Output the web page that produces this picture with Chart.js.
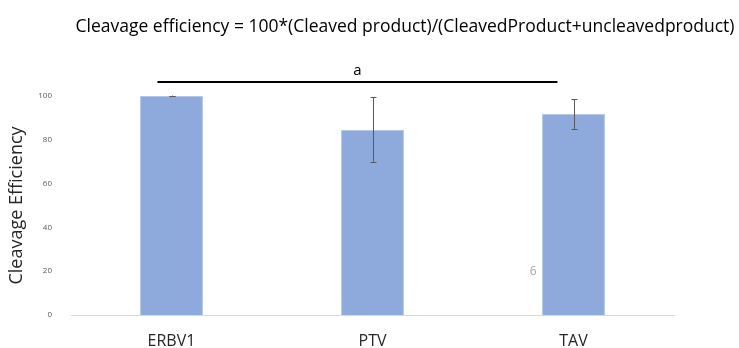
<!DOCTYPE html>
<html>
<head>
<meta charset="utf-8">
<script src="https://cdn.jsdelivr.net/npm/chart.js@4.4.1/dist/chart.umd.min.js"></script>
<style>
  html, body { margin: 0; padding: 0; background: #ffffff; }
  #wrap { width: 739px; height: 348px; position: relative; }
</style>
</head>
<body>
<div id="wrap"><canvas id="c" width="739" height="348"></canvas></div>
<script>
// Cleavage efficiency per virus (mean with error)
const categories = ['ERBV1', 'PTV', 'TAV'];
const efficiency = [100, 84.5, 91.8];
const errorLow = [99.8, 70, 85];
const errorHigh = [100.2, 99.5, 98.6];
const yTicks = [0, 20, 40, 60, 80, 100];
const titleText = 'Cleavage efficiency = 100*(Cleaved product)/(CleavedProduct+uncleavedproduct)';
const groupLabel = 'a';
const groupSpan = [-0.07, 1.92];   // category positions covered by the bracket
const groupLevel = 106.4;          // bracket height in axis units
const noteText = '6';
const notePos = [1.8, 20];

const FONT = '"Open Sans", "Liberation Sans", sans-serif';

const annotations = {
  id: 'annotations',
  afterDatasetsDraw(chart) {
    const ctx = chart.ctx;
    const xs = chart.scales.x, ys = chart.scales.y;
    ctx.save();
    // error bars
    ctx.strokeStyle = '#595959';
    ctx.lineWidth = 1;
    efficiency.forEach((v, i) => {
      const x = Math.round(xs.getPixelForValue(i)) + 0.5;
      const yl = ys.getPixelForValue(errorLow[i]);
      const yh = ys.getPixelForValue(errorHigh[i]);
      ctx.beginPath();
      ctx.moveTo(x, yl); ctx.lineTo(x, yh);
      ctx.moveTo(x - 3, Math.round(yl) + 0.5); ctx.lineTo(x + 3, Math.round(yl) + 0.5);
      ctx.moveTo(x - 3, Math.round(yh) + 0.5); ctx.lineTo(x + 3, Math.round(yh) + 0.5);
      ctx.stroke();
    });
    // significance bracket
    const by = ys.getPixelForValue(groupLevel);
    ctx.strokeStyle = '#000000';
    ctx.lineWidth = 2;
    ctx.beginPath();
    ctx.moveTo(xs.getPixelForValue(groupSpan[0]), by);
    ctx.lineTo(xs.getPixelForValue(groupSpan[1]), by);
    ctx.stroke();
    ctx.fillStyle = '#000000';
    ctx.font = '15px ' + FONT;
    ctx.textAlign = 'center';
    ctx.textBaseline = 'bottom';
    ctx.fillText(groupLabel, (xs.getPixelForValue(groupSpan[0]) + xs.getPixelForValue(groupSpan[1])) / 2, by - 4);
    // small note
    ctx.fillStyle = '#a6a6a6';
    ctx.font = '12px ' + FONT;
    ctx.textBaseline = 'middle';
    ctx.fillText(noteText, xs.getPixelForValue(notePos[0]), ys.getPixelForValue(notePos[1]));
    // heading
    ctx.fillStyle = '#000000';
    ctx.font = '17.5px ' + FONT;
    ctx.textBaseline = 'middle';
    ctx.fillText(titleText, 405, 27);
    ctx.restore();
  }
};

new Chart(document.getElementById('c'), {
  type: 'bar',
  data: {
    labels: categories,
    datasets: [{
      data: efficiency,
      backgroundColor: '#8eaadc',
      borderColor: '#b4c7e7',
      borderWidth: 1,
      categoryPercentage: 1,
      barPercentage: 0.313
    }]
  },
  options: {
    responsive: false,
    animation: false,
    layout: { padding: { left: 0, right: 65, top: 96, bottom: 0 } },
    plugins: { legend: { display: false }, tooltip: { enabled: false }, title: { display: false } },
    scales: {
      x: {
        grid: { display: false },
        border: { display: true, color: '#d9d9d9', width: 1 },
        ticks: { color: '#262626', font: { family: FONT, size: 16 }, padding: 9 },
        afterFit(s) { s.height = 33; }
      },
      y: {
        min: 0, max: 100,
        afterBuildTicks(s) { s.ticks = yTicks.map(v => ({ value: v })); },
        grid: { display: false },
        border: { display: false },
        ticks: { color: '#595959', font: { family: FONT, size: 8 }, padding: 11 },
        title: { display: true, text: 'Cleavage Efficiency', color: '#262626', font: { family: FONT, size: 18 }, padding: { top: 6, bottom: 0 } },
        afterFit(s) { s.width = 71; }
      }
    }
  },
  plugins: [annotations]
});
</script>
</body>
</html>
